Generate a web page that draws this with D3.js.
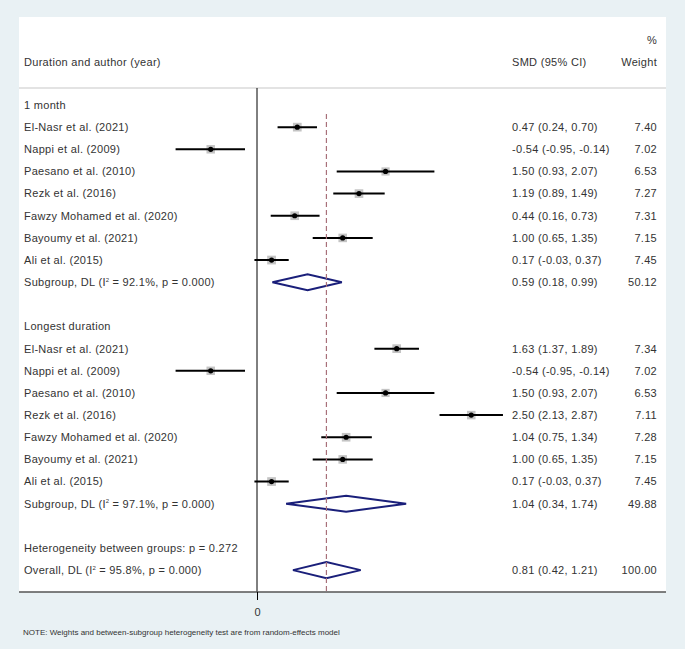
<!DOCTYPE html>
<html>
<head>
<meta charset="utf-8">
<script src="https://cdn.jsdelivr.net/npm/d3@7"></script>
<style>
  html, body { margin: 0; padding: 0; background: #e9f1f4; }
  svg { display: block; }
  text { font-family: "Liberation Sans", Arial, sans-serif; fill: #333; }
</style>
</head>
<body>
<svg id="chart" width="685" height="649"></svg>
<script>
// ---------- DATA ----------
const groupNames = ["1 month", "Longest duration"];
const studyNames = ["El-Nasr et al. (2021)", "Nappi et al. (2009)", "Paesano et al. (2010)", "Rezk et al. (2016)", "Fawzy Mohamed et al. (2020)", "Bayoumy et al. (2021)", "Ali et al. (2015)"];
const smd1  = [0.47, -0.54, 1.50, 1.19, 0.44, 1.00, 0.17];
const lo1   = [0.24, -0.95, 0.93, 0.89, 0.16, 0.65, -0.03];
const hi1   = [0.70, -0.14, 2.07, 1.49, 0.73, 1.35, 0.37];
const wt1   = ["7.40", "7.02", "6.53", "7.27", "7.31", "7.15", "7.45"];
const smd2  = [1.63, -0.54, 1.50, 2.50, 1.04, 1.00, 0.17];
const lo2   = [1.37, -0.95, 0.93, 2.13, 0.75, 0.65, -0.03];
const hi2   = [1.89, -0.14, 2.07, 2.87, 1.34, 1.35, 0.37];
const wt2   = ["7.34", "7.02", "6.53", "7.11", "7.28", "7.15", "7.45"];
const subLabels = ["92.1%", "97.1%"];
const subEst = [0.59, 1.04];
const subLo  = [0.18, 0.34];
const subHi  = [0.99, 1.74];
const subWt  = ["50.12", "49.88"];
const overallEst = 0.81, overallLo = 0.42, overallHi = 1.21, overallI2 = "95.8%";
const heterogP = "0.272";
const xTicks = [0];

// ---------- BUILD ROWS ----------
const fmt = v => d3.format(".2f")(v).replace("\u2212", "-");
const rows = [];
const sets = [[smd1, lo1, hi1, wt1], [smd2, lo2, hi2, wt2]];
groupNames.forEach((g, gi) => {
  rows.push({type: "group", label: g});
  const [s, l, h, w] = sets[gi];
  studyNames.forEach((n, i) => rows.push({type: "study", label: n, est: s[i], lo: l[i], hi: h[i], wt: w[i]}));
  rows.push({type: "sub", label: "Subgroup, DL (", i2: subLabels[gi], est: subEst[gi], lo: subLo[gi], hi: subHi[gi], wt: subWt[gi]});
  rows.push({type: "blank"});
});
rows.push({type: "het", label: "Heterogeneity between groups: p = " + heterogP});
rows.push({type: "sub", label: "Overall, DL (", i2: overallI2, est: overallEst, lo: overallLo, hi: overallHi, wt: "100.00"});

// ---------- SCALES ----------
const x = d3.scaleLinear().domain([-1, 3]).range([257 - 85.7, 257 + 3 * 85.7]);
const y = d3.scaleLinear().domain([0, 1]).range([105, 127.15]);

const FS = 11, LS = "0.3px";
const svg = d3.select("#chart");
const panel = {x0: 19, x1: 666, y0: 17, y1: 592};
svg.append("rect").attr("x", panel.x0).attr("y", panel.y0)
  .attr("width", panel.x1 - panel.x0).attr("height", panel.y1 - panel.y0).attr("fill", "#fff");

// header
const hdr = svg.append("g").attr("font-size", FS).attr("letter-spacing", LS);
hdr.append("text").attr("x", 24).attr("y", 62).attr("dy", "0.35em").text("Duration and author (year)");
hdr.append("text").attr("x", 512).attr("y", 62).attr("dy", "0.35em").text("SMD (95% CI)");
hdr.append("text").attr("x", 657).attr("y", 40).attr("dy", "0.35em").attr("text-anchor", "end").text("%");
hdr.append("text").attr("x", 657).attr("y", 62).attr("dy", "0.35em").attr("text-anchor", "end").text("Weight");
svg.append("line").attr("x1", panel.x0).attr("x2", panel.x1).attr("y1", 88).attr("y2", 88)
  .attr("stroke", "#c8c8c8").attr("stroke-width", 1.2);

// zero line
svg.append("line").attr("x1", x(0)).attr("x2", x(0)).attr("y1", 88).attr("y2", panel.y1)
  .attr("stroke", "#000").attr("stroke-width", 1);

const tg = svg.append("g").attr("font-size", FS).attr("letter-spacing", LS);
const mg = svg.append("g");

// rows
rows.forEach((r, i) => {
  const yy = y(i);
  if (r.type === "blank") return;
  const t = tg.append("text").attr("x", 24).attr("y", yy + 3.85);
  if (r.type === "sub") {
    t.append("tspan").text(r.label + "I");
    t.append("tspan").attr("dy", -4.5).attr("font-size", 6).attr("letter-spacing", "0px").text("2");
    t.append("tspan").attr("dy", 4.5).text(" = " + r.i2 + ", p = 0.000)");
  } else {
    t.text(r.label);
  }
  if (r.type === "study" || r.type === "sub") {
    tg.append("text").attr("x", 512).attr("y", yy).attr("dy", "0.35em")
      .text(fmt(r.est) + " (" + fmt(r.lo) + ", " + fmt(r.hi) + ")");
    tg.append("text").attr("x", 657).attr("y", yy).attr("dy", "0.35em")
      .attr("text-anchor", "end").text(r.wt);
  }
  if (r.type === "study") {
    const s = Math.sqrt(+r.wt) * 3.2;
    mg.append("rect").attr("x", x(r.est) - s / 2).attr("y", yy - s / 2)
      .attr("width", s).attr("height", s).attr("fill", "#c4c4c4");
    mg.append("line").attr("x1", x(r.lo)).attr("x2", x(r.hi)).attr("y1", yy).attr("y2", yy)
      .attr("stroke", "#000").attr("stroke-width", 2);
    mg.append("circle").attr("cx", x(r.est)).attr("cy", yy).attr("r", 2.6).attr("fill", "#000");
  }
  if (r.type === "sub") {
    const h = 8;
    const pts = [[x(r.lo), yy], [x(r.est), yy - h], [x(r.hi), yy], [x(r.est), yy + h]];
    mg.append("path").attr("d", d3.line()(pts) + "Z")
      .attr("fill", "#fff").attr("stroke", "#1a1f7a").attr("stroke-width", 2);
  }
});

// overall dashed line (over diamonds)
svg.append("line").attr("x1", x(overallEst)).attr("x2", x(overallEst)).attr("y1", 114).attr("y2", panel.y1)
  .attr("stroke", "#a8707a").attr("stroke-width", 1.2).attr("stroke-dasharray", "5,3");

// bottom line
svg.append("line").attr("x1", panel.x0).attr("x2", panel.x1).attr("y1", panel.y1).attr("y2", panel.y1)
  .attr("stroke", "#555").attr("stroke-width", 1.5);

// axis
const axis = svg.append("g").attr("transform", `translate(0,${panel.y1})`)
  .call(d3.axisBottom(x).tickValues(xTicks).tickSize(8).tickPadding(8).tickFormat(d3.format("d")));
axis.select(".domain").remove();
axis.selectAll("text").attr("font-size", FS).attr("fill", "#333")
  .attr("font-family", "Liberation Sans, Arial, sans-serif");
axis.selectAll("line").attr("stroke", "#000");

// note
svg.append("text").attr("x", 23).attr("y", 632).attr("dy", "0.35em").attr("font-size", 8)
  .text("NOTE: Weights and between-subgroup heterogeneity test are from random-effects model");
</script>
</body>
</html>
